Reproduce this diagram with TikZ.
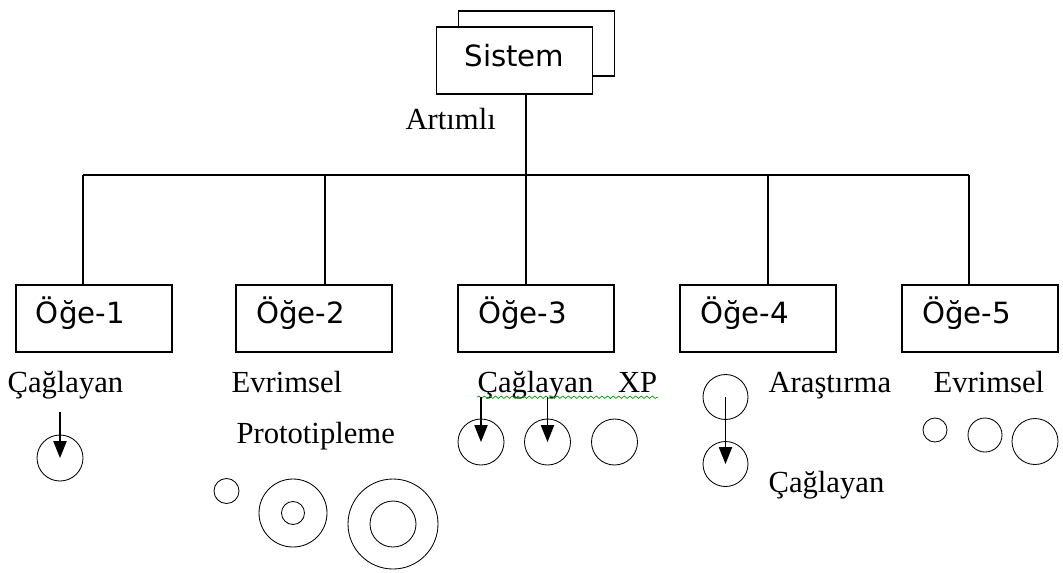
\documentclass[tikz,border=0pt]{standalone}
\usepackage{fontspec}
\setmainfont{Liberation Serif}
\newfontfamily\boxfont{DejaVu Sans}
\usetikzlibrary{arrows.meta,decorations.pathmorphing}
\tikzset{
  box/.style={draw, fill=white, minimum width=3.9cm, minimum height=1.675cm, inner sep=0pt,
    font=\boxfont\fontsize{20.8}{25}\selectfont},
  item/.style={box, inner xsep=0.5cm, text width=2.9cm, align=left, text depth=4mm},
  lbl/.style={anchor=base west, inner sep=0pt, font=\fontsize{21.8}{26}\selectfont},
  ring/.style={draw, circle, inner sep=0pt, line width=0.6pt},
  arr/.style={-{Triangle[length=4.2mm,width=3.3mm]}},
}
\begin{document}
\begin{tikzpicture}[x=0.25mm,y=-0.25mm,line width=0.8pt]
  \useasboundingbox (0,0) rectangle (1063,572);
  % sistem
  \node[box, minimum height=1.625cm] (sisb) at (536.5,43.5) {};
  \node[box, text depth=2.5mm] (sis) at (514.5,60.5) {Sistem};
  \node[lbl] (art) at (405,129) {Artımlı};
  % ogeler
  \node[item] (o1) at (94,318.5) {Öğe-1};
  \node[item] (o2) at (314,318.5) {Öğe-2};
  \node[item] (o3) at (536,318.5) {Öğe-3};
  \node[item] (o4) at (758,318.5) {Öğe-4};
  \node[item] (o5) at (980,318.5) {Öğe-5};
  % agac
  \coordinate (j) at (526,175);
  \coordinate (b1) at (83,175);
  \coordinate (b2) at (325,175);
  \coordinate (b4) at (768,175);
  \coordinate (b5) at (969,175);
  \draw (j |- sis.south) -- (j);
  \draw (b1) -- (b5);
  \draw (b1) -- (b1 |- o1.north);
  \draw (b2) -- (b2 |- o2.north);
  \draw (j) -- (j |- o3.north);
  \draw (b4) -- (b4 |- o4.north);
  \draw (b5) -- (b5 |- o5.north);
  % oge-1
  \node[lbl] (t1) at (7,392) {Çağlayan};
  \node[ring, minimum size=1.15cm] (c1) at (60,458) {};
  \coordinate (a1) at (60,412);
  \draw[arr] (a1) -- (c1.center);
  % oge-2
  \node[lbl] (t2) at (231,392) {Evrimsel};
  \node[lbl] (t2b) at (236,443) {Prototipleme};
  \node[ring, minimum size=0.625cm] (c21) at (226.5,491) {};
  \node[ring, minimum size=1.7cm] (c22) at (293,513) {};
  \node[ring, minimum size=0.575cm] (c22i) at (293,513) {};
  \node[ring, minimum size=2.25cm] (c23) at (393,524) {};
  \node[ring, minimum size=1.15cm] (c23i) at (393,524) {};
  % oge-3
  \node[lbl] (t3) at (477,392) {Çağlayan\hspace{0.62cm}XP};
  \draw[green!60!black, line width=0.5pt, decorate,
    decoration={snake, amplitude=0.3mm, segment length=1.4mm}]
    ([yshift=-1.3mm]t3.base west) -- ([yshift=-1.3mm]t3.base east);
  \node[ring, minimum size=1.15cm] (c31) at (481,442) {};
  \node[ring, minimum size=1.15cm] (c32) at (547.5,442) {};
  \node[ring, minimum size=1.15cm] (c33) at (614.5,442) {};
  \coordinate (a31) at (481,397);
  \coordinate (a32) at (547.5,397);
  \draw[arr] (a31) -- (c31.center);
  \draw[arr] (a32) -- (c32.center);
  % oge-4
  \node[lbl] (t4) at (768,392) {Araştırma};
  \node[lbl] (t4b) at (768,492) {Çağlayan};
  \node[ring, minimum size=1.125cm] (c41) at (725.5,397) {};
  \node[ring, minimum size=1.125cm] (c42) at (725.5,464) {};
  \draw[arr] (c41.center) -- (c42.center);
  % oge-5
  \node[lbl] (t5) at (933,392) {Evrimsel};
  \node[ring, minimum size=0.6cm] (c51) at (935,430) {};
  \node[ring, minimum size=0.85cm] (c52) at (985,435) {};
  \node[ring, minimum size=1.15cm] (c53) at (1035,441.5) {};
\end{tikzpicture}
\end{document}
